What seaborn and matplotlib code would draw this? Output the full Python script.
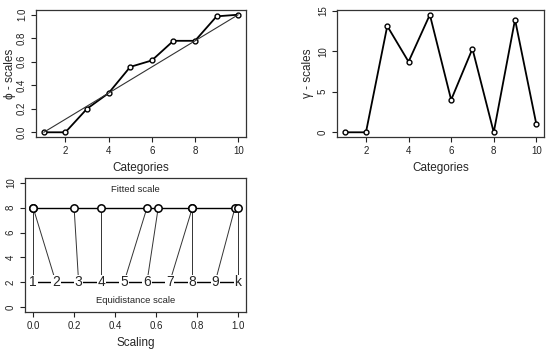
import numpy as np
import pandas as pd
import seaborn as sns
import matplotlib.pyplot as plt

# data
categories = [1, 2, 3, 4, 5, 6, 7, 8, 9, 10]
phi = [0.0, 0.0, 0.2, 0.333, 0.556, 0.611, 0.778, 0.778, 0.986, 1.0]
gamma = [0.0, 0.0, 13.1, 8.7, 14.5, 4.0, 10.3, 0.0, 13.9, 1.0]
equi = [0.0, 0.111, 0.222, 0.333, 0.444, 0.556, 0.667, 0.778, 0.889, 1.0]
equi_labels = ['1', '2', '3', '4', '5', '6', '7', '8', '9', 'k']
fitted_y = 8
equi_y = 2

sns.set_style("ticks")
plt.rcParams['font.family'] = ['Liberation Sans', 'DejaVu Sans']
plt.rcParams['axes.edgecolor'] = '#333333'

df = pd.DataFrame({'cat': categories, 'phi': phi, 'gamma': gamma, 'equi': equi})

fig = plt.figure(figsize=(5.5, 3.55), dpi=100)
ax1 = fig.add_axes([36 / 550, 1 - 137 / 355, 210 / 550, 127 / 355])
ax2 = fig.add_axes([337 / 550, 1 - 137 / 355, 207 / 550, 127 / 355])
ax3 = fig.add_axes([25 / 550, 1 - 312 / 355, 221 / 550, 134 / 355])

mk = dict(marker='o', markersize=3.5, markerfacecolor='white', markeredgecolor='black',
          markeredgewidth=1.0)

# phi scales
sns.lineplot(data=df, x='cat', y='phi', ax=ax1, color='black', lw=1.3, **mk)
ax1.plot([categories[0], categories[-1]], [phi[0], phi[-1]], color='#333333', lw=0.8)
ax1.set_xlim(0.64, 10.36)
ax1.set_ylim(-0.04, 1.04)
ax1.set_xticks([2, 4, 6, 8, 10])
ax1.set_yticks([0, 0.2, 0.4, 0.6, 0.8, 1.0])
ax1.set_yticklabels(['0.0', '0.2', '0.4', '0.6', '0.8', '1.0'])
ax1.set_xlabel('Categories', fontsize=8.5)
ax1.set_ylabel('ϕ - scales', fontsize=8.5, va='center')
ax1.yaxis.set_label_coords(-0.125, 0.5)

# gamma scales
sns.lineplot(data=df, x='cat', y='gamma', ax=ax2, color='black', lw=1.3, **mk)
ax2.set_xlim(0.64, 10.36)
ax2.set_ylim(-0.58, 15.08)
ax2.set_xticks([2, 4, 6, 8, 10])
ax2.set_yticks([0, 5, 10, 15])
ax2.set_xlabel('Categories', fontsize=8.5)
ax2.set_ylabel('γ - scales', fontsize=8.5, va='center')
ax2.yaxis.set_label_coords(-0.14, 0.5)

# scaling comparison
for e, p in zip(equi, phi):
    ax3.plot([e, p], [equi_y, fitted_y], color='#333333', lw=0.7)
ax3.plot([0, 1], [fitted_y, fitted_y], color='black', lw=1.0)
ax3.plot([0, 1], [equi_y, equi_y], color='black', lw=1.0)
sns.scatterplot(x=phi, y=[fitted_y] * len(phi), ax=ax3, s=28, facecolor='white',
                edgecolor='black', linewidth=1.1, zorder=3)
for e, lab in zip(equi, equi_labels):
    ax3.text(e, equi_y, lab, ha='center', va='center', fontsize=10, zorder=4,
             bbox=dict(boxstyle='square,pad=0.05', fc='white', ec='none'))
ax3.text(0.5, 9.5, 'Fitted scale', ha='center', va='center', fontsize=6.8)
ax3.text(0.5, 0.5, 'Equidistance scale', ha='center', va='center', fontsize=6.8)
ax3.set_xlim(-0.04, 1.04)
ax3.set_ylim(-0.4, 10.4)
ax3.set_xticks([0, 0.2, 0.4, 0.6, 0.8, 1.0])
ax3.set_xticklabels(['0.0', '0.2', '0.4', '0.6', '0.8', '1.0'])
ax3.set_yticks([0, 2, 4, 6, 8, 10])
ax3.set_xlabel('Scaling', fontsize=8.5)
ax3.set_ylabel('')

for ax in (ax1, ax2, ax3):
    for s in ax.spines.values():
        s.set_visible(True)
        s.set_linewidth(0.9)
    ax.tick_params(labelsize=7, length=3.5, width=0.8, pad=3, colors='#222222')
    for t in ax.get_yticklabels():
        t.set_rotation(90)
        t.set_va('center')

fig.savefig('out.png', dpi=100)
